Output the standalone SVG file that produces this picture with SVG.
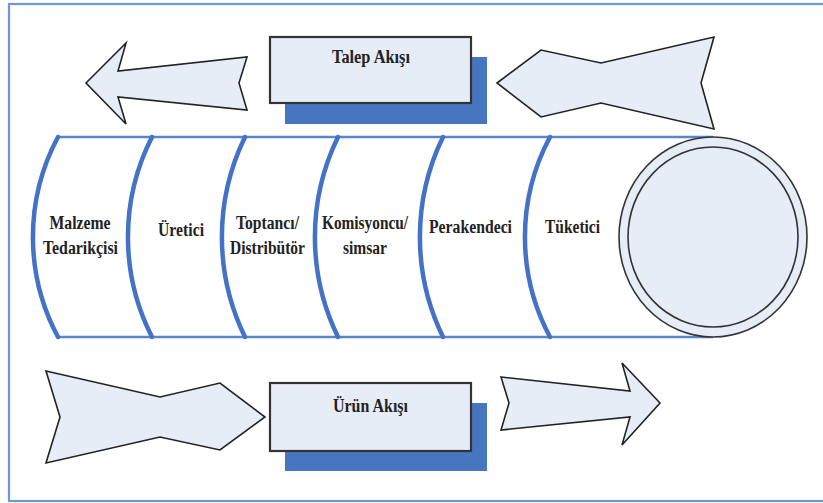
<svg xmlns="http://www.w3.org/2000/svg" width="823" height="503" viewBox="0 0 823 503">
  <style>
    .shape { fill: #E7EDF7; stroke: #222; stroke-width: 1.6; stroke-linejoin: miter; }
    .box { fill: #E7EDF7; stroke: #333; stroke-width: 2.2; }
    .shadow { fill: #4676C0; }
    .arc { fill: none; stroke: #4472C4; stroke-width: 4.5; stroke-linecap: round; }
    .rail { fill: none; stroke: #5A86CE; stroke-width: 2.5; }
    .lbl { font-family: "Liberation Serif", "Times New Roman", serif; font-weight: bold; font-size: 18px; fill: #222; text-anchor: middle; }
  </style>
  <rect x="0" y="0" width="823" height="503" fill="#FFFFFF"/>
  <rect id="frame" x="9" y="4" width="830" height="497" fill="none" stroke="#6F97D8" stroke-width="2.2"/>

  <g id="flows">
    <polygon class="shape" points="86,83 126,43 118,71 247,57 239,83 247,110 118,97 126,124"/>
    <polygon class="shape" points="497,83 541,50 601,63 714,37 701,83 714,129 601,103 541,117"/>
    <polygon class="shape" points="46,371 160,397 220,383 265,417 220,450 160,437 46,463 60,417"/>
    <polygon class="shape" points="501,377 630,391 622,363 660,403 622,445 630,417 501,430 509,403"/>
  </g>

  <g id="talep">
    <rect class="shadow" x="285" y="57" width="202" height="67"/>
    <rect class="box" x="270" y="37" width="201" height="66"/>
    <text class="lbl" x="371" y="63" textLength="78" lengthAdjust="spacingAndGlyphs">Talep Akışı</text>
  </g>

  <g id="urun">
    <rect class="shadow" x="285" y="403" width="202" height="68"/>
    <rect class="box" x="270" y="383" width="201" height="68"/>
    <text class="lbl" x="370.5" y="412" textLength="75" lengthAdjust="spacingAndGlyphs">Ürün Akışı</text>
  </g>

  <g id="pipe">
    <line class="rail" x1="58" y1="137" x2="713" y2="137"/>
    <line class="rail" x1="58" y1="337" x2="713" y2="337"/>
    <ellipse cx="713" cy="237" rx="94" ry="100" fill="#E7EDF7" stroke="#333" stroke-width="1.6"/>
    <ellipse cx="713" cy="237" rx="85" ry="90" fill="#E7EDF7" stroke="#333" stroke-width="1.6"/>
  </g>

  <g id="malzeme">
    <path class="arc" d="M58,137 A212,212 0 0 0 58,337"/>
    <text class="lbl" x="80" y="229" textLength="61" lengthAdjust="spacingAndGlyphs">Malzeme</text>
    <text class="lbl" x="80.5" y="254" textLength="75" lengthAdjust="spacingAndGlyphs">Tedarikçisi</text>
  </g>
  <g id="uretici">
    <path class="arc" d="M152,137 A220,220 0 0 0 152,337"/>
    <text class="lbl" x="181" y="236" textLength="46" lengthAdjust="spacingAndGlyphs">Üretici</text>
  </g>
  <g id="toptanci">
    <path class="arc" d="M245,137 A228,228 0 0 0 245,337"/>
    <text class="lbl" x="267.5" y="229" textLength="63" lengthAdjust="spacingAndGlyphs">Toptancı/</text>
    <text class="lbl" x="267.5" y="254" textLength="75" lengthAdjust="spacingAndGlyphs">Distribütör</text>
  </g>
  <g id="komisyoncu">
    <path class="arc" d="M338,137 A228,228 0 0 0 338,337"/>
    <text class="lbl" x="365" y="229" textLength="86" lengthAdjust="spacingAndGlyphs">Komisyoncu/</text>
    <text class="lbl" x="365" y="254" textLength="44" lengthAdjust="spacingAndGlyphs">simsar</text>
  </g>
  <g id="perakendeci">
    <path class="arc" d="M443,137 A228,228 0 0 0 443,337"/>
    <text class="lbl" x="470.5" y="233" textLength="83" lengthAdjust="spacingAndGlyphs">Perakendeci</text>
  </g>
  <g id="tuketici">
    <path class="arc" d="M550,137 A212,212 0 0 0 550,337"/>
    <text class="lbl" x="572.5" y="233" textLength="55" lengthAdjust="spacingAndGlyphs">Tüketici</text>
  </g>
</svg>
